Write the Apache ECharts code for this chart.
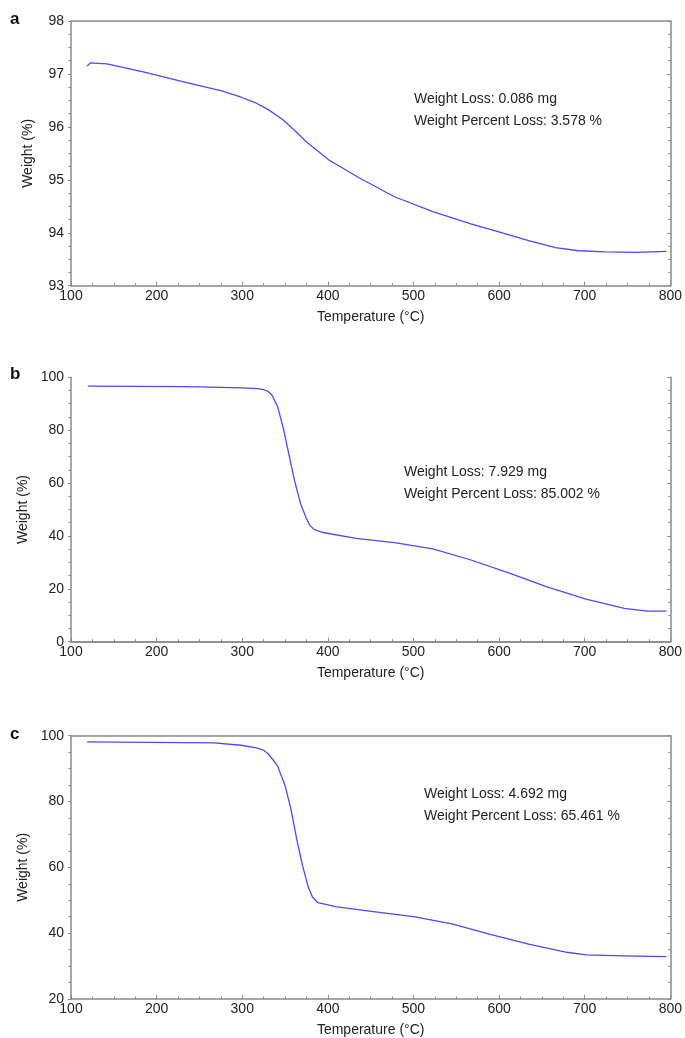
<!DOCTYPE html>
<html>
<head>
<meta charset="utf-8">
<script src="https://cdn.jsdelivr.net/npm/echarts@6/dist/echarts.min.js"></script>
<style>html,body{margin:0;padding:0;background:#fff;}#c{width:685px;height:1038px;}</style>
</head>
<body>
<div id="c"></div>
<script>
// ---- data ----
const tempA   = [118.8, 123, 142, 187, 231.6, 276, 298.7, 315, 330, 348, 360, 374.8, 401.7, 437.5, 477.8, 522.6, 567, 598.7, 634.5, 665.8, 692.7, 724, 759.8, 795.6];
const weightA = [97.15, 97.21, 97.19, 97.03, 96.85, 96.68, 96.56, 96.46, 96.33, 96.13, 95.95, 95.72, 95.37, 95.03, 94.68, 94.40, 94.17, 94.02, 93.85, 93.72, 93.66, 93.64, 93.63, 93.65];

const tempB   = [119.7, 231.6, 276.4, 298.7, 318, 325.6, 330, 334.6, 341.3, 348, 354.7, 361.4, 368.1, 374.8, 379, 383.8, 392.7, 433, 477.8, 522.6, 567.3, 612, 656.8, 701.6, 746.3, 773.2, 795.6];
const weightB = [96.7, 96.5, 96.2, 96.0, 95.7, 95.3, 94.7, 93.3, 88.9, 80.7, 70.6, 60.5, 52.3, 46.7, 44.0, 42.5, 41.4, 39.1, 37.5, 35.1, 30.9, 25.9, 20.6, 16.1, 12.6, 11.6, 11.6];

const tempC   = [118.8, 267.4, 298.7, 316.7, 325, 330, 335, 341.3, 350.2, 356.9, 363.6, 370.4, 377.1, 382, 388.3, 410.7, 455.4, 500.2, 544.9, 589.7, 634.5, 679.2, 701.6, 746.3, 795.6];
const weightC = [98.1, 97.8, 97.1, 96.3, 95.6, 94.6, 93.0, 90.8, 84.7, 77.7, 68.6, 60.6, 54.0, 51.0, 49.3, 48.0, 46.5, 45.0, 42.8, 39.6, 36.7, 34.2, 33.4, 33.1, 32.9];

const xTicks = [100, 200, 300, 400, 500, 600, 700, 800];
const panelLabels = ['a', 'b', 'c'];
const notesLoss = ['Weight Loss: 0.086 mg', 'Weight Loss: 7.929 mg', 'Weight Loss: 4.692 mg'];
const notesPct  = ['Weight Percent Loss: 3.578 %', 'Weight Percent Loss: 85.002 %', 'Weight Percent Loss: 65.461 %'];
const yRanges = [[93, 98, 1], [0, 100, 20], [20, 100, 20]];

// ---- layout ----
const FONT = 'Liberation Sans, Arial, sans-serif';
const grids = [
  {left: 71, right: 14, top: 21, height: 264.7},
  {left: 71, right: 14, top: 377.3, height: 264.4},
  {left: 71, right: 14, top: 735.7, height: 265}
];
const axisCol = '#8a8a8a';
const lineCol = '#4a4af8';

const series = [];
const xAxes = [];
const yAxes = [];
const datasets = [[tempA, weightA], [tempB, weightB], [tempC, weightC]];

grids.forEach((g, i) => {
  xAxes.push({
    type: 'value', gridIndex: i, min: xTicks[0], max: xTicks[xTicks.length - 1], interval: 100,
    position: 'bottom',
    name: 'Temperature (°C)', nameLocation: 'middle', nameGap: 24,
    nameTextStyle: {fontFamily: FONT, fontSize: 14, color: '#222'},
    axisLine: {show: true, lineStyle: {color: axisCol, width: 1.5}},
    axisTick: {show: true, inside: true, length: 4, lineStyle: {color: axisCol}},
    minorTick: {show: true, splitNumber: 4, length: 2.5, lineStyle: {color: axisCol}},
    splitLine: {show: false},
    axisLabel: {fontFamily: FONT, fontSize: 14, color: '#222', margin: 3}
  });
  xAxes.push({
    type: 'value', gridIndex: i, min: xTicks[0], max: xTicks[xTicks.length - 1], interval: 100,
    position: 'top',
    axisLine: {show: true, lineStyle: {color: axisCol, width: 1.5}},
    axisTick: {show: false}, axisLabel: {show: false}, splitLine: {show: false}
  });
  const r = yRanges[i];
  yAxes.push({
    type: 'value', gridIndex: i, min: r[0], max: r[1], interval: r[2],
    position: 'left',
    name: 'Weight (%)', nameLocation: 'middle', nameGap: 36,
    nameTextStyle: {fontFamily: FONT, fontSize: 14, color: '#222'},
    axisLine: {show: true, lineStyle: {color: axisCol, width: 1.5}},
    axisTick: {show: true, inside: false, length: 3, lineStyle: {color: axisCol}},
    minorTick: {show: true, splitNumber: 4, length: 2.5, lineStyle: {color: axisCol}},
    splitLine: {show: false},
    axisLabel: {fontFamily: FONT, fontSize: 14, color: '#222', margin: 7}
  });
  yAxes.push({
    type: 'value', gridIndex: i, min: r[0], max: r[1], interval: r[2],
    position: 'right',
    axisLine: {show: true, lineStyle: {color: axisCol, width: 1.5}},
    axisTick: {show: true, inside: true, length: 3, lineStyle: {color: axisCol}},
    minorTick: {show: true, splitNumber: 4, length: 2, lineStyle: {color: axisCol}},
    axisLabel: {show: false}, splitLine: {show: false}
  });
  const d = datasets[i];
  series.push({
    type: 'line', xAxisIndex: 2 * i, yAxisIndex: 2 * i,
    data: d[0].map((t, k) => [t, d[1][k]]),
    showSymbol: false, smooth: false,
    lineStyle: {color: lineCol, width: 1.3, join: 'round'},
    silent: true, animation: false
  });
});

const graphics = [];
const letterPos = [[10, 11], [10, 366], [10, 726]];
const notePos = [[414, 92], [404, 465], [424, 787]];
panelLabels.forEach((L, i) => {
  graphics.push({type: 'text', left: letterPos[i][0], top: letterPos[i][1],
    style: {text: L, font: 'bold 17px ' + FONT, fill: '#111'}});
  graphics.push({type: 'text', left: notePos[i][0], top: notePos[i][1],
    style: {text: notesLoss[i], font: '14px ' + FONT, fill: '#222'}});
  graphics.push({type: 'text', left: notePos[i][0], top: notePos[i][1] + 22.5,
    style: {text: notesPct[i], font: '14px ' + FONT, fill: '#222'}});
});

const chart = echarts.init(document.getElementById('c'), null, {renderer: 'canvas'});
chart.setOption({
  animation: false,
  backgroundColor: '#fff',
  grid: grids,
  xAxis: xAxes,
  yAxis: yAxes,
  series: series,
  graphic: graphics
});
</script>
</body>
</html>
